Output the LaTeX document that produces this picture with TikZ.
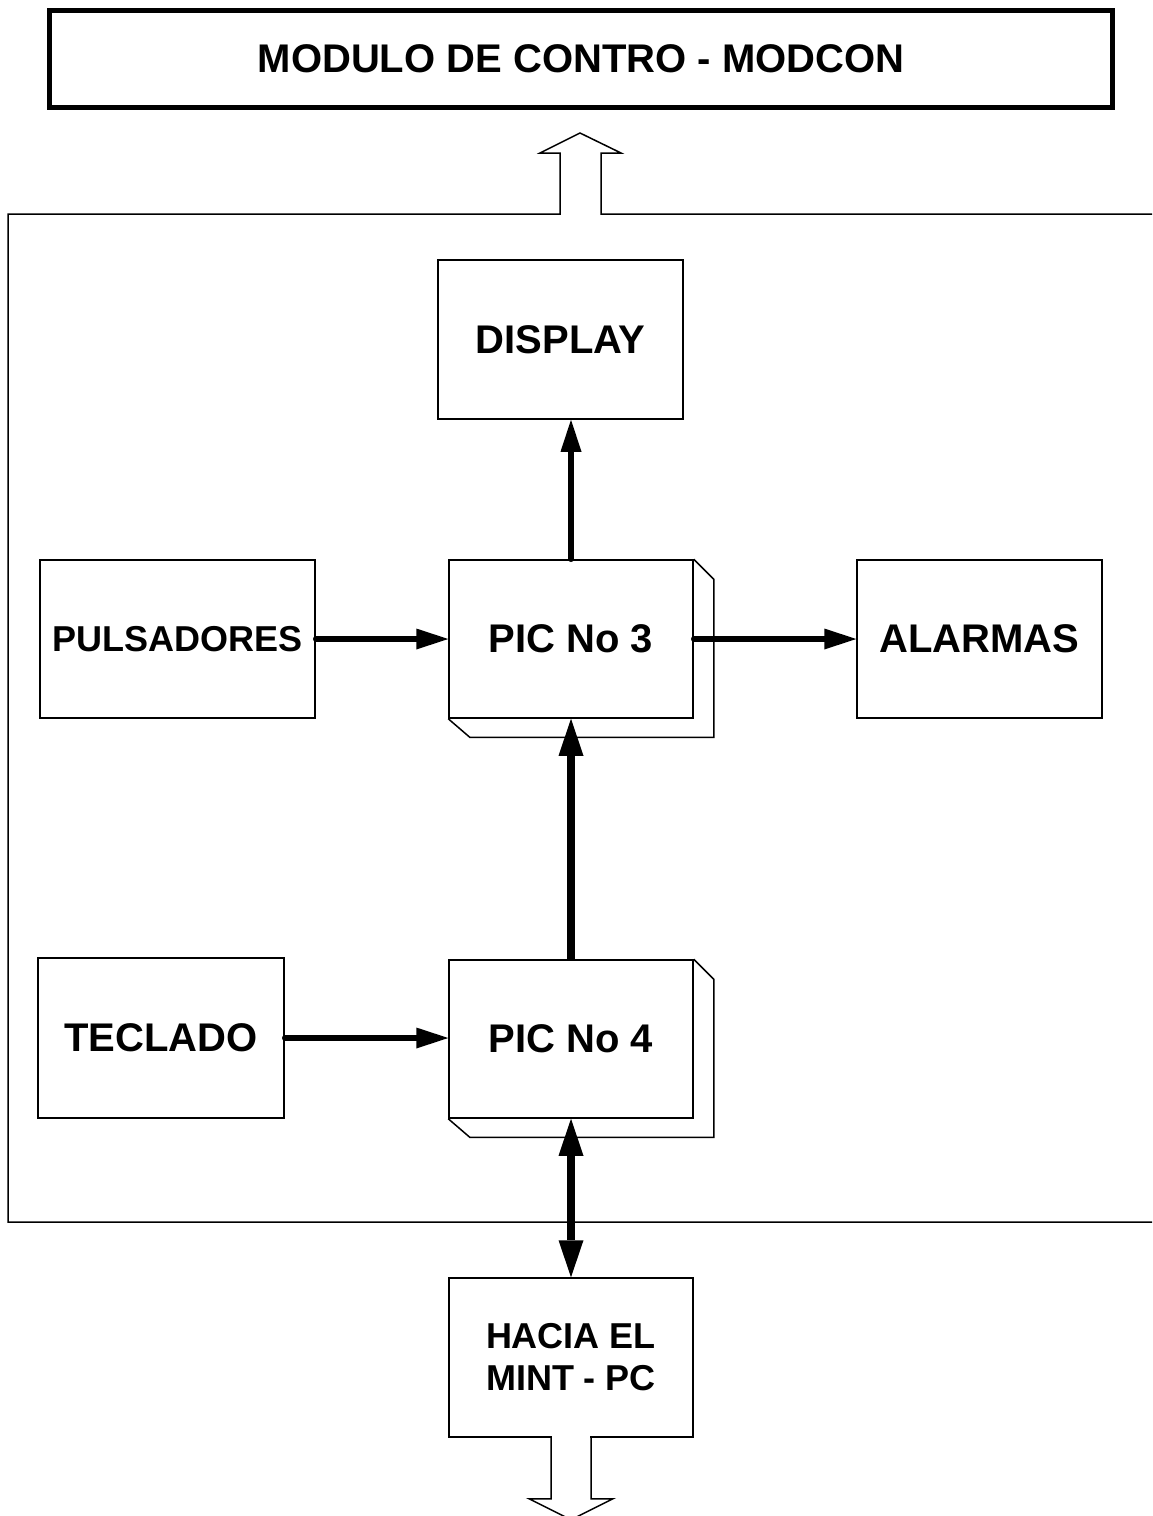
\documentclass[tikz,border=0pt]{standalone}
\usepackage{fontspec}
\setmainfont{Liberation Sans}
\usetikzlibrary{arrows.meta}

\begin{document}
\begin{tikzpicture}[
    x=1pt, y=-1pt,
    line join=miter,
    bloque/.style={draw, line width=1.5pt, inner sep=0pt, minimum width=244pt, minimum height=158pt, font=\fontsize{40}{44}\selectfont\bfseries},
    chico/.style={font=\fontsize{36}{42}\selectfont\bfseries},
    linea/.style={line width=1.5pt},
    flecha/.style={line width=5.5pt, line cap=round, -{Triangle[length=32pt, width=21pt, line width=0pt]}},
    flecha_gruesa/.style={line width=8.5pt, >={Triangle[length=37pt, width=25pt, line width=0pt]}, ->}
]
    \def\prof{20} % fondo de los PIC
    \useasboundingbox (0,0) rectangle (1152,1516);

    \node[bloque, line width=5pt, minimum width=1063pt, minimum height=97pt] (titulo) at (581,59) {MODULO DE CONTRO - MODCON};

    % marco con la salida hacia el modulo de control
    \draw[linea] (1152,214) -- (601,214) -- (601,153) -- (621,153) -- (580,133) -- (540,153) -- (560,153) -- (560,214) -- (8,214) -- (8,1222) -- (1152,1222);

    \node[bloque, minimum width=245pt, minimum height=159pt] (display) at (560.5,339.5) {DISPLAY};
    \node[bloque, chico, minimum width=275pt] (pulsadores) at (177.5,639) {PULSADORES};
    \node[bloque] (pic3) at (571,639) {PIC No 3};
    \node[bloque, minimum width=245pt] (alarmas) at (979.5,639) {ALARMAS};
    \node[bloque, minimum width=246pt, minimum height=160pt] (teclado) at (161,1038) {TECLADO};
    \node[bloque] (pic4) at (571,1039) {PIC No 4};
    \node[bloque, chico, minimum height=159pt, align=center] (hacia) at (571,1357.5) {HACIA EL\\MINT - PC};

    % fondo de los PIC
    \foreach \p in {pic3, pic4}
        \draw[linea] (\p.north east) -- ++(\prof,\prof) -- ++(0,158) -- ++(-244,0) -- (\p.south west);

    % salida hacia el MINT
    \fill[white] ([xshift=-19pt, yshift=2pt]hacia.south) rectangle ([xshift=19pt, yshift=-2pt]hacia.south);
    \draw[linea] ([xshift=-20pt]hacia.south) -- ++(0,61) -- ++(-22,0) -- ++(42,21) -- ++(42,-21) -- ++(-22,0) -- ([xshift=20pt]hacia.south);

    \draw[flecha] (pulsadores) -- (pic3);
    \draw[flecha] (pic3) -- (alarmas);
    \draw[flecha] (pic3.north) -- (pic3.north |- display.south);
    \draw[flecha] (teclado.east) -- (teclado.east -| pic4.west);
    \draw[flecha_gruesa] (pic4) -- (pic3);
    \draw[flecha_gruesa, <->] (pic4) -- (hacia);

\end{tikzpicture}
\end{document}
